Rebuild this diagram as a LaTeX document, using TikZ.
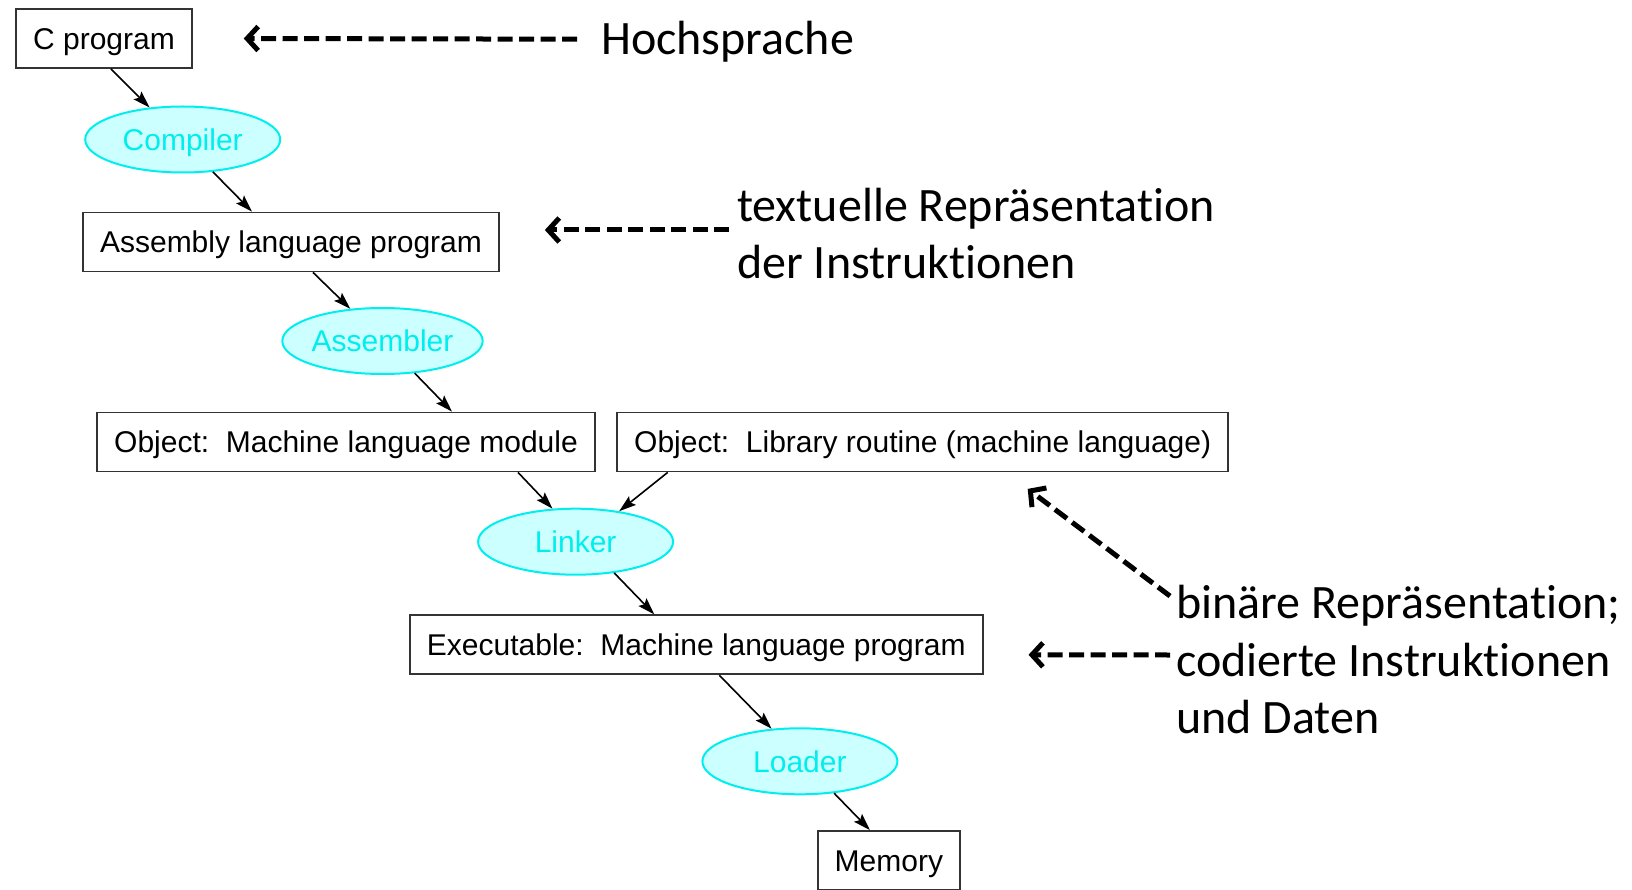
\documentclass[tikz,border=0pt]{standalone}
\usepackage{fontspec}
\setmainfont{Carlito}[Ligatures={NoCommon}]
\setsansfont{Liberation Sans}
\usetikzlibrary{arrows.meta,shapes.geometric}
\definecolor{boxgray}{RGB}{51,51,51}
\definecolor{toolcyan}{RGB}{0,238,238}
\definecolor{toolfill}{RGB}{204,255,255}
\tikzset{
  prog/.style = {rectangle, draw=boxgray, line width=1.8pt, inner xsep=17pt, minimum height=59pt, text height=21.5pt, text depth=0pt, font=\sffamily\fontsize{30}{36}\selectfont},
  tool/.style = {ellipse, draw=toolcyan, fill=toolfill, line width=2pt, minimum width=195pt, minimum height=66pt, inner sep=0pt, text height=21.5pt, text depth=0pt, text=toolcyan, font=\sffamily\fontsize{30}{36}\selectfont},
  note/.style = {inner sep=0pt, align=left, font=\fontsize{48}{57.5}\selectfont},
  flow/.style = {line width=1.6pt, -{Stealth[length=17pt,width=11pt,inset=3pt]}},
  hint/.style = {line width=5pt, dash pattern=on 15pt off 6.5pt, -{Straight Barb[length=11pt,width=24pt]}}
}

\begin{document}
\begin{tikzpicture}[x=1pt,y=-1pt]
  \useasboundingbox (0,0) rectangle (1632,890);

  % translation chain
  \node[prog] (cprog)     at (104,38.5)    {C program};
  \node[tool] (compiler)  at (182.7,139.5) {Compiler};
  \node[prog] (asm)       at (291,242)     {Assembly language program};
  \node[tool] (assembler) at (382.5,341)   {Assembler};
  \node[prog] (objmod)    at (346,442)     {Object:\ \ Machine language module};
  \node[prog] (objlib)    at (922.7,442)   {Object:\ \ Library routine (machine language)};
  \node[tool] (linker)    at (575.6,541.7) {Linker};
  \node[prog] (exe)       at (696.3,644.8) {Executable:\ \ Machine language program};
  \node[tool] (loader)    at (799.9,761.3) {Loader};
  \node[prog] (memory)    at (888.9,860.5) {Memory};

  \draw[flow] ([xshift=7pt]cprog.south) -- (compiler.136);
  \draw[flow] (compiler.-47) -- ([xshift=-39pt]asm.north);
  \draw[flow] ([xshift=22pt]asm.south) -- (assembler.135);
  \draw[flow] (assembler.-45) -- ([xshift=106pt]objmod.north);
  \draw[flow] ([xshift=172pt]objmod.south) -- (linker.125);
  \draw[flow] ([xshift=-255pt]objlib.south) -- (linker.35);
  \draw[flow] (linker.-39) -- ([xshift=-42pt]exe.north);
  \draw[flow] ([xshift=23pt]exe.south) -- (loader.131);
  \draw[flow] (loader.-43) -- ([xshift=-19pt]memory.north);

  % annotations
  \node[note, anchor=base west] (hoch)    at (601,55)    {Hochsprache};
  \node[note, anchor=west]      (textrep) at (737,233.5) {textuelle Repräsentation\\der Instruktionen};
  \node[note, anchor=west]      (binrep)  at (1176,660)  {binäre Repräsentation;\\codierte Instruktionen\\und Daten};

  \draw[hint] ([xshift=-24pt,yshift=3pt]hoch.west) -- ([xshift=51pt]cprog.east);
  \draw[hint] ([xshift=-8pt,yshift=3.5pt]textrep.west) -- ([xshift=45pt,yshift=12pt]asm.east);
  \draw[hint] ([xshift=-6pt,yshift=-10.6pt]binrep.north west) -- ([xshift=105pt,yshift=-16.5pt]objlib.south);
  \draw[hint] ([xshift=-6pt,yshift=5pt]binrep.west) -- ([xshift=45pt,yshift=-10pt]exe.east);
\end{tikzpicture}
\end{document}
